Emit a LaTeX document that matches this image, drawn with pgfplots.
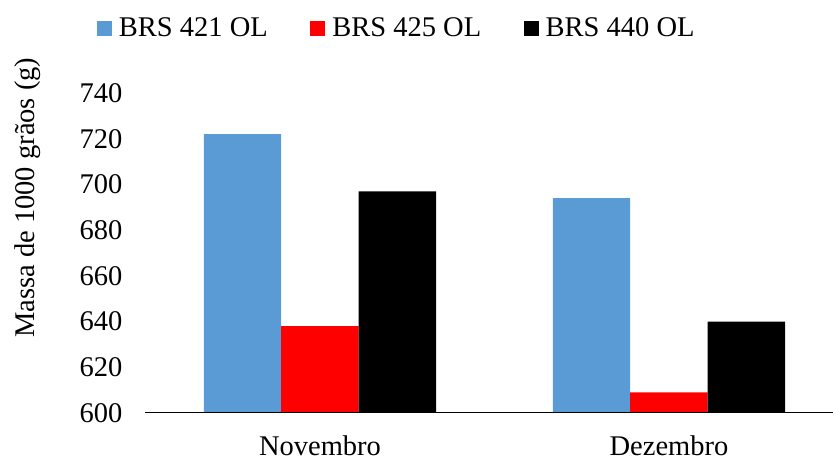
\documentclass[border=0pt]{standalone}
\usepackage{fontspec}
\setmainfont{Liberation Serif}
\usepackage{pgfplots}
\pgfplotsset{compat=1.18}
\definecolor{exblue}{RGB}{91,155,213}
\newcommand{\fs}{\fontsize{14.25}{17}\selectfont}

\begin{document}
\begin{tikzpicture}
\begin{axis}[
  scale only axis,
  width=344pt, height=160pt,
  ybar=0pt, bar width=0.222,
  xmin=-0.5014, xmax=1.47,
  ymin=600, ymax=740,
  ytick={600,620,...,740},
  xtick={0,1},
  xticklabels={Novembro,Dezembro},
  major tick length=0pt,
  axis line style={draw=none},
  font=\fs,
  /pgf/number format/assume math mode=true,
  yticklabel style={font=\fs, xshift=-7.75pt},
  xticklabel style={font=\fs, yshift=-7.75pt},
  ylabel={Massa de 1000 grãos (g)},
  ylabel style={font=\fs, at={(axis description cs:-0.170,0.673)}, anchor=center},
  legend columns=3,
  legend style={draw=none, fill=none, inner sep=0pt, outer sep=0pt,
    font=\fs, at={(axis description cs:-0.0698,1.200)}, anchor=west,
    /tikz/every odd column/.append style={column sep=1.5pt},
    /tikz/every even column/.append style={column sep=19.25pt}},
  legend image code/.code={\fill[#1,draw=none] (0pt,-3.75pt) rectangle (7.5pt,3.75pt);},
]
\addplot[fill=exblue, draw=none] coordinates {(0,722) (1,694)};
\addlegendentry{BRS 421 OL}
\addplot[fill=red, draw=none] coordinates {(0,638) (1,609)};
\addlegendentry{BRS 425 OL}
\addplot[fill=black, draw=none] coordinates {(0,697) (1,640)};
\addlegendentry{BRS 440 OL}
\draw[black, line width=0.7pt] (rel axis cs:0,0) -- (rel axis cs:1,0);
\coordinate (bl) at (rel axis cs:0,0);
\end{axis}
\pgfresetboundingbox
\path[use as bounding box] ([xshift=-72.5pt,yshift=-23pt]bl) rectangle ([xshift=345pt,yshift=206.5pt]bl);
\end{tikzpicture}
\end{document}
